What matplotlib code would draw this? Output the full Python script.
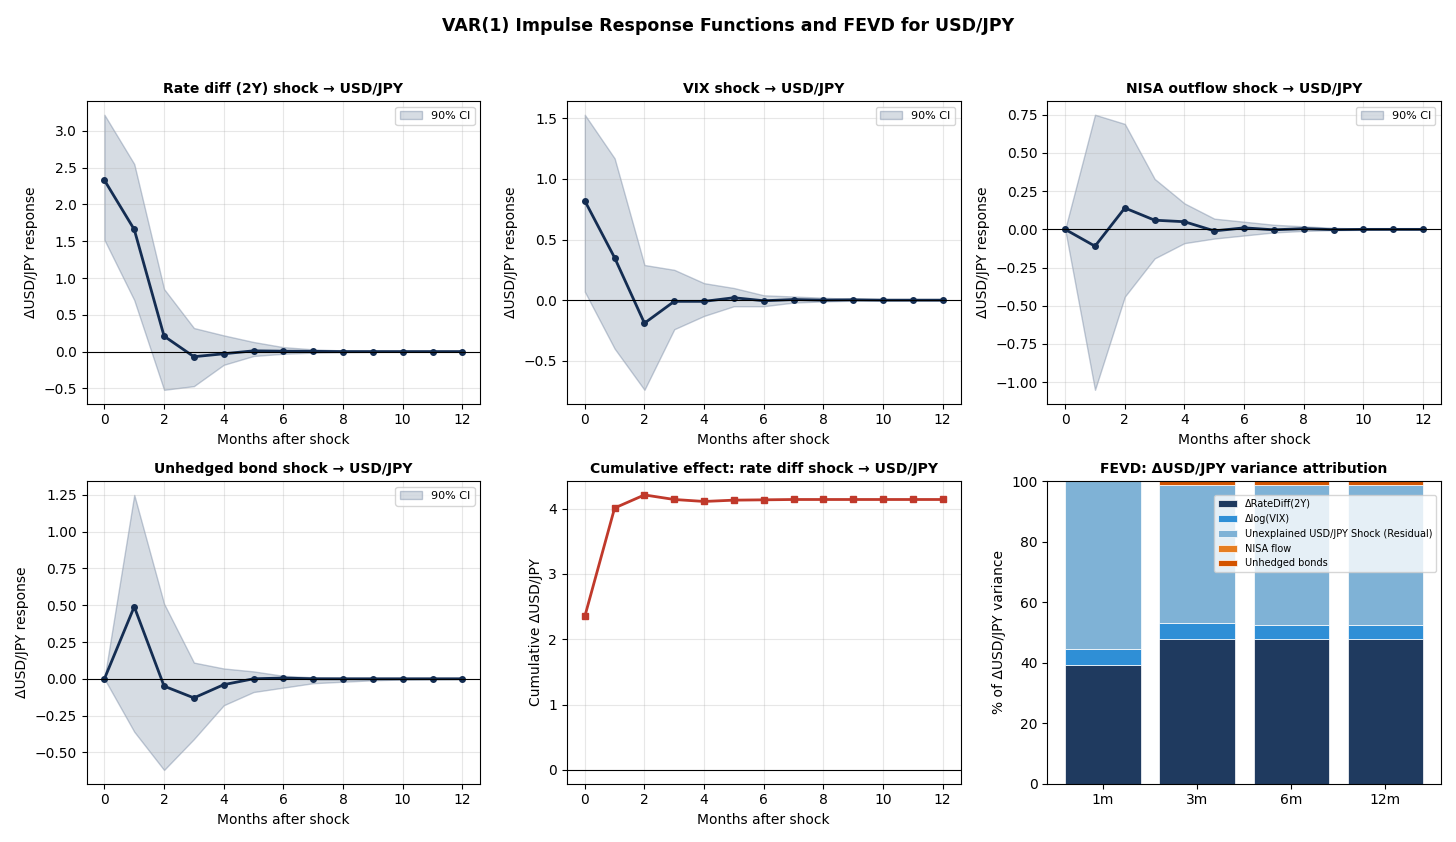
import matplotlib.pyplot as plt
import numpy as np

months = np.arange(13)

rate_irf = [2.33, 1.66, 0.21, -0.07, -0.03, 0.01, 0.005, 0.003, 0.0, 0.0, 0.0, 0.0, 0.0]
rate_hi = [3.22, 2.55, 0.85, 0.32, 0.22, 0.13, 0.06, 0.03, 0.015, 0.008, 0.004, 0.002, 0.001]
rate_lo = [1.52, 0.70, -0.52, -0.47, -0.18, -0.06, -0.03, -0.015, -0.008, -0.004, -0.002, -0.001, 0.0]

vix_irf = [0.82, 0.35, -0.19, -0.01, -0.01, 0.02, -0.005, 0.005, 0.0, 0.003, 0.0, 0.0, 0.0]
vix_hi = [1.53, 1.17, 0.29, 0.25, 0.14, 0.10, 0.04, 0.03, 0.02, 0.01, 0.005, 0.003, 0.001]
vix_lo = [0.07, -0.40, -0.74, -0.24, -0.13, -0.05, -0.05, -0.02, -0.01, -0.005, -0.003, -0.001, 0.0]

nisa_irf = [0.0, -0.11, 0.14, 0.06, 0.05, -0.01, 0.01, -0.003, 0.005, -0.002, 0.0, 0.0, 0.0]
nisa_hi = [0.0, 0.75, 0.69, 0.33, 0.17, 0.07, 0.05, 0.03, 0.02, 0.01, 0.005, 0.003, 0.001]
nisa_lo = [0.0, -1.05, -0.44, -0.19, -0.09, -0.06, -0.04, -0.02, -0.01, -0.005, -0.003, -0.001, 0.0]

bond_irf = [0.0, 0.49, -0.05, -0.13, -0.04, 0.0, 0.005, 0.0, 0.0, 0.0, 0.0, 0.0, 0.0]
bond_hi = [0.0, 1.25, 0.51, 0.11, 0.07, 0.05, 0.02, 0.01, 0.005, 0.003, 0.001, 0.0, 0.0]
bond_lo = [0.0, -0.36, -0.62, -0.41, -0.18, -0.09, -0.06, -0.03, -0.02, -0.01, -0.005, -0.002, 0.0]

cum_rate = [2.35, 4.01, 4.21, 4.14, 4.11, 4.13, 4.135, 4.14, 4.14, 4.14, 4.14, 4.14, 4.14]

horizons = ['1m', '3m', '6m', '12m']
fevd_rate = [39.2, 47.8, 47.8, 47.8]
fevd_vix = [5.2, 5.2, 4.8, 4.8]
fevd_resid = [55.6, 45.6, 46.0, 46.0]
fevd_nisa = [0.0, 0.1, 0.1, 0.1]
fevd_bond = [0.0, 1.3, 1.3, 1.3]

navy = '#142d52'
fig, axes = plt.subplots(2, 3, figsize=(14.56, 8.42), dpi=100)
fig.suptitle('VAR(1) Impulse Response Functions and FEVD for USD/JPY', fontweight='bold', fontsize=12.5)

panels = [
    (axes[0, 0], 'Rate diff (2Y) shock → USD/JPY', rate_irf, rate_lo, rate_hi),
    (axes[0, 1], 'VIX shock → USD/JPY', vix_irf, vix_lo, vix_hi),
    (axes[0, 2], 'NISA outflow shock → USD/JPY', nisa_irf, nisa_lo, nisa_hi),
    (axes[1, 0], 'Unhedged bond shock → USD/JPY', bond_irf, bond_lo, bond_hi),
]
for ax, title, irf, lo, hi in panels:
    ax.fill_between(months, lo, hi, color='#8a9bb0', alpha=0.35, edgecolor='#5a7090', label='90% CI')
    ax.plot(months, irf, '-o', color=navy, lw=2, ms=4)
    ax.axhline(0, color='black', lw=0.8)
    ax.set_title(title, fontweight='bold', fontsize=10)
    ax.set_xlabel('Months after shock')
    ax.set_ylabel('ΔUSD/JPY response')
    ax.grid(alpha=0.3)
    ax.legend(loc='upper right', fontsize=8)

ax = axes[1, 1]
ax.plot(months, cum_rate, '-s', color='#c0392b', lw=2, ms=5)
ax.axhline(0, color='black', lw=0.8)
ax.set_title('Cumulative effect: rate diff shock → USD/JPY', fontweight='bold', fontsize=10)
ax.set_xlabel('Months after shock')
ax.set_ylabel('Cumulative ΔUSD/JPY')
ax.grid(alpha=0.3)

ax = axes[1, 2]
x = np.arange(len(horizons))
bottom = np.zeros(len(horizons))
for vals, lab, col in [(fevd_rate, 'ΔRateDiff(2Y)', '#1f3a5f'),
                       (fevd_vix, 'Δlog(VIX)', '#2f8fd6'),
                       (fevd_resid, 'Unexplained USD/JPY Shock (Residual)', '#7fb2d6'),
                       (fevd_nisa, 'NISA flow', '#e67e22'),
                       (fevd_bond, 'Unhedged bonds', '#d35400')]:
    ax.bar(x, vals, bottom=bottom, color=col, label=lab, edgecolor='white', linewidth=0.5, width=0.8)
    bottom += np.array(vals)
ax.set_xticks(x)
ax.set_xticklabels(horizons)
ax.set_ylim(0, 100)
ax.set_ylabel('% of ΔUSD/JPY variance')
ax.set_title('FEVD: ΔUSD/JPY variance attribution', fontweight='bold', fontsize=10)
ax.legend(loc='upper right', fontsize=7, bbox_to_anchor=(1.0, 0.97))

plt.tight_layout(rect=[0, 0, 1, 0.96])
plt.savefig('out.png')
